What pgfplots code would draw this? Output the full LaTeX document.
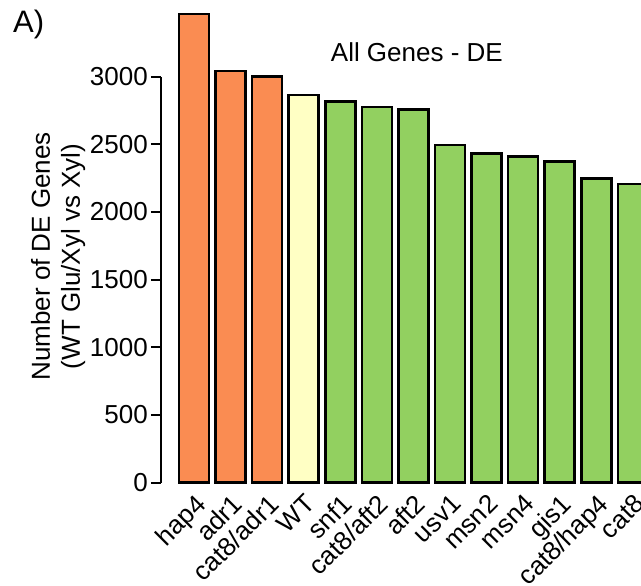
\documentclass[border=0pt]{standalone}
\usepackage{pgfplots}
\pgfplotsset{compat=1.18}
\usepackage{fontspec}
\setmainfont{Liberation Sans}
\definecolor{barorange}{RGB}{250,140,82}
\definecolor{baryellow}{RGB}{255,255,196}
\definecolor{bargreen}{RGB}{146,208,96}
\begin{document}
\begin{tikzpicture}[x=1pt,y=1pt]
\useasboundingbox (0,0) rectangle (641,-586);
\node[anchor=base west, font=\fontsize{31}{36}\selectfont, inner sep=0pt] at (13,-33) {A)};
\begin{axis}[
  at={(161pt,-482.5pt)}, anchor=south west,
  scale only axis, width=490.2pt, height=406pt,
  xmin=-0.9, xmax=12.5, ymin=0, ymax=3000,
  clip=false,
  axis y line=left, axis x line=bottom,
  x axis line style={draw=none},
  y axis line style={-, line width=2pt, black},
  xtick={0,...,12},
  xticklabels={hap4,adr1,cat8/adr1,WT,snf1,cat8/aft2,aft2,usv1,msn2,msn4,gis1,cat8/hap4,cat8},
  xtick style={draw=none},
  x tick label style={rotate=45, anchor=north east, inner sep=0pt},
  ytick={0,500,...,3000},
  tick align=outside, major tick length=10pt,
  ytick style={line width=2pt, black},
  y tick label style={inner sep=0pt, xshift=-3pt},
  tick label style={font=\fontsize{26}{30}\selectfont},
  /pgf/number format/assume math mode=true,
  /pgf/number format/set thousands separator={},
  ylabel={Number of DE Genes\\(WT Glu/Xyl vs Xyl)},
  ylabel style={at={(axis description cs:-0.21,0.557)}, anchor=center, align=center, font=\fontsize{26}{30}\selectfont},
  title={All Genes - DE},
  title style={at={(axis description cs:0.522,1.022)}, anchor=base, font=\fontsize{26}{30}\selectfont, inner sep=0pt},
  ybar, bar width=30pt,
  every axis plot/.append style={draw=black, line width=2.5pt, bar shift=0pt},
]
\addplot[fill=barorange] coordinates {(0,3460) (1,3041) (2,3001)};
\addplot[fill=baryellow] coordinates {(3,2864)};
\addplot[fill=bargreen] coordinates {(4,2814) (5,2775) (6,2755) (7,2494) (8,2432) (9,2410) (10,2371) (11,2248) (12,2206)};
\end{axis}
\end{tikzpicture}
\end{document}
